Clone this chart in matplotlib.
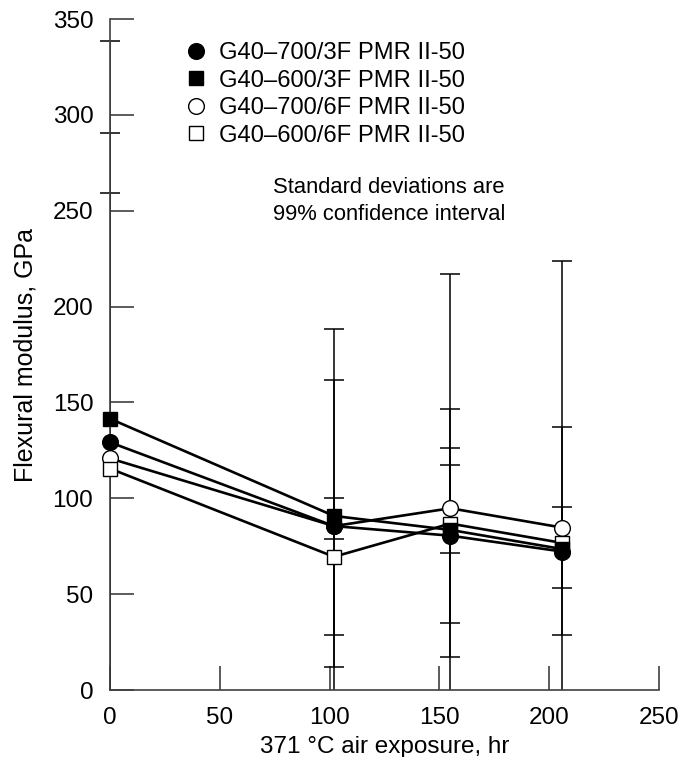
import matplotlib
matplotlib.use("Agg")
import matplotlib.pyplot as plt
from matplotlib.lines import Line2D

plt.rcParams['font.family'] = ['Liberation Sans', 'DejaVu Sans']

# ---- data ----
hours = [0, 102, 155, 206]
series_labels = ["G40\u2013700/3F PMR II-50", "G40\u2013600/3F PMR II-50",
                 "G40\u2013700/6F PMR II-50", "G40\u2013600/6F PMR II-50"]
fc_mod = [129.2, 85.5, 80.5, 72.2]     # filled circle
fs_mod = [141.5, 90.8, 83.5, 73.5]     # filled square
oc_mod = [120.8, 85.5, 94.8, 84.7]     # open circle
os_mod = [115.5, 69.5, 86.8, 76.7]     # open square

# error bar extents (None = not visible)
fc_low = [-32, 12.1, 35.1, None]
fc_high = [290.7, 161.7, 126.1, None]
fs_low = [-55, 78.8, 17.1, 53.0]
fs_high = [338.4, 100.0, 146.7, 95.6]
oc_low = [-17, -18, 71.6, 28.7]
oc_high = [259.1, 188.2, 117.4, 137.4]
os_low = [None, 28.7, -43, -72]
os_high = [None, None, 217.0, 224.0]

x_ticks = [0, 50, 100, 150, 200, 250]
y_ticks = [0, 50, 100, 150, 200, 250, 300, 350]

FS = 17.5

fig = plt.figure(figsize=(6.8, 7.57), dpi=100)
ax = fig.add_axes([0.1618, 0.0885, 0.8073, 0.8864])

# error bars
def draw_err(mod, low, high):
    for x, m, lo, hi in zip(hours, mod, low, high):
        if lo is None and hi is None:
            continue
        b = lo if lo is not None else m
        t = hi if hi is not None else m
        ax.vlines(x, b, t, color='black', lw=1.1, zorder=2)
        caps = [v for v in (lo, hi) if v is not None and v >= 0]
        if caps:
            ax.plot([x] * len(caps), caps, ls='none', marker='_', ms=15,
                    mew=1.1, color='black', clip_on=False, zorder=2)

for mod, lo, hi in [(fc_mod, fc_low, fc_high), (fs_mod, fs_low, fs_high),
                    (oc_mod, oc_low, oc_high), (os_mod, os_low, os_high)]:
    draw_err(mod, lo, hi)

ms = 11.3
lw = 1.9
ax.plot(hours, oc_mod, '-', color='black', lw=lw, marker='o', ms=ms,
        mfc='white', mec='black', mew=1.0, zorder=3, clip_on=False)
ax.plot(hours, os_mod, '-', color='black', lw=lw, marker='s', ms=ms - 0.8,
        mfc='white', mec='black', mew=1.0, zorder=4, clip_on=False)
ax.plot(hours, fs_mod, '-', color='black', lw=lw, marker='s', ms=ms - 0.8,
        mfc='black', mec='black', zorder=5, clip_on=False)
ax.plot(hours, fc_mod, '-', color='black', lw=lw, marker='o', ms=ms,
        mfc='black', mec='black', zorder=6, clip_on=False)

ax.set_xlim(0, 250)
ax.set_ylim(0, 350)
ax.set_xticks(x_ticks)
ax.set_yticks(y_ticks)
for s in ('top', 'right'):
    ax.spines[s].set_visible(False)
for s in ('left', 'bottom'):
    ax.spines[s].set_color('#404040')
    ax.spines[s].set_linewidth(1.2)
ax.tick_params(axis='y', direction='in', length=17, width=1.2, color='#404040',
               labelsize=FS, pad=12)
ax.tick_params(axis='x', direction='in', length=17, width=1.2, color='#404040',
               labelsize=FS, pad=12)
ax.set_xlabel("371 \u00b0C air exposure, hr", fontsize=FS, labelpad=5)
ax.set_ylabel("Flexural modulus, GPa", fontsize=18, labelpad=11)

handles = [
    Line2D([], [], ls='none', marker='o', ms=ms, mfc='black', mec='black'),
    Line2D([], [], ls='none', marker='s', ms=ms - 0.8, mfc='black', mec='black'),
    Line2D([], [], ls='none', marker='o', ms=ms, mfc='white', mec='black', mew=1.0),
    Line2D([], [], ls='none', marker='s', ms=ms - 0.8, mfc='white', mec='black', mew=1.0),
]
ax.legend(handles, series_labels, loc='upper left', bbox_to_anchor=(0.105, 0.99),
          frameon=False, fontsize=17.1, handlelength=1.0, handletextpad=0.45,
          labelspacing=0.23, borderpad=0.2)

ax.text(0.508, 0.729, "Standard deviations are\n99% confidence interval",
        transform=ax.transAxes, ha='center', va='center', fontsize=15.8,
        linespacing=1.38)

fig.savefig("out.png", dpi=100)
